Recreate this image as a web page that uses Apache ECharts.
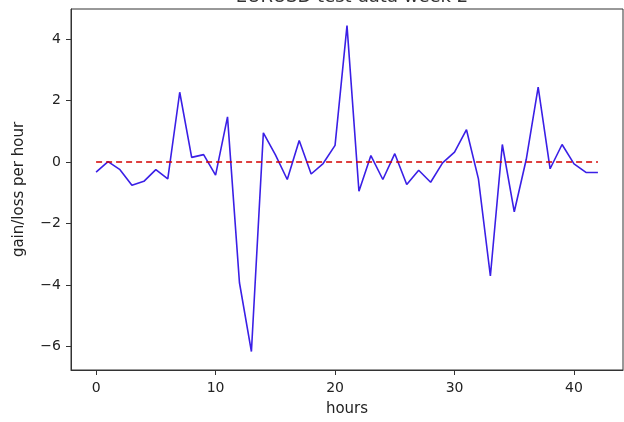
<!DOCTYPE html>
<html>
<head>
<meta charset="utf-8">
<title>EURUSD test data week 2</title>
<script src="https://cdn.jsdelivr.net/npm/echarts@6/dist/echarts.min.js"></script>
<style>
  html, body { margin: 0; padding: 0; background: #fff; }
  #chart { width: 624px; height: 422px; }
</style>
</head>
<body>
<div id="chart"></div>
<script type="text/javascript">
// hourly gain/loss
var hours = [0,1,2,3,4,5,6,7,8,9,10,11,12,13,14,15,16,17,18,19,20,
             21,22,23,24,25,26,27,28,29,30,31,32,33,34,35,36,37,38,39,40,41,42];
var gainLoss = [-0.33, 0.01, -0.25, -0.76, -0.63, -0.25, -0.55, 2.27, 0.15, 0.24, -0.43,
                1.47, -3.93, -6.17, 0.95, 0.24, -0.57, 0.7, -0.39, -0.05, 0.54,
                4.44, -0.95, 0.21, -0.57, 0.27, -0.73, -0.27, -0.66, -0.03, 0.32,
                1.05, -0.55, -3.71, 0.57, -1.62, 0.08, 2.44, -0.22, 0.57, -0.06,
                -0.34, -0.34];
var zeroX = [0, 42];
var zeroY = [0, 0];
var xTicks = [0, 10, 20, 30, 40];
var yTicks = [-6, -4, -2, 0, 2, 4];

function pairs(xs, ys) {
    return xs.map(function (x, i) { return [x, ys[i]]; });
}
function minus(v) {
    return v < 0 ? '\u2212' + (-v) : String(v);
}

var myChart = echarts.init(document.getElementById('chart'));
var font = 'DejaVu Sans';
myChart.setOption({
    animation: false,
    title: {
        text: 'EURUSD test data week 2',
        left: 347,
        textAlign: 'center',
        top: -17,
        textStyle: { fontFamily: font, fontSize: 18, fontWeight: 'normal', color: '#333' }
    },
    grid: {
        left: 71, right: 1, top: 9, bottom: 51,
        show: true, borderColor: '#333', borderWidth: 1
    },
    xAxis: {
        type: 'value',
        min: -2.1,
        max: 44.1,
        name: 'hours',
        nameLocation: 'middle',
        nameGap: 32,
        nameTextStyle: { fontFamily: font, fontSize: 15, color: '#222' },
        axisLine: { show: true, onZero: false, lineStyle: { color: '#333' } },
        axisTick: { show: true, length: 5, customValues: xTicks, lineStyle: { color: '#333' } },
        axisLabel: { customValues: xTicks, fontFamily: font, fontSize: 14, color: '#222', margin: 11 },
        splitLine: { show: false }
    },
    yAxis: {
        type: 'value',
        min: -6.77,
        max: 4.98,
        name: 'gain/loss per hour',
        nameLocation: 'middle',
        nameGap: 44,
        nameTextStyle: { fontFamily: font, fontSize: 15, color: '#222' },
        axisLine: { show: true, onZero: false, lineStyle: { color: '#333' } },
        axisTick: { show: true, length: 5, customValues: yTicks, lineStyle: { color: '#333' } },
        axisLabel: { customValues: yTicks, formatter: minus, fontFamily: font, fontSize: 14, color: '#222', margin: 10 },
        splitLine: { show: false }
    },
    series: [
        {
            name: 'gain/loss',
            type: 'line',
            data: pairs(hours, gainLoss),
            showSymbol: false,
            lineStyle: { color: '#3a1fe6', width: 1.6 }
        },
        {
            name: 'zero',
            type: 'line',
            data: pairs(zeroX, zeroY),
            showSymbol: false,
            lineStyle: { color: '#d40000', width: 1.3, type: [6, 4] }
        }
    ]
});
</script>
</body>
</html>
